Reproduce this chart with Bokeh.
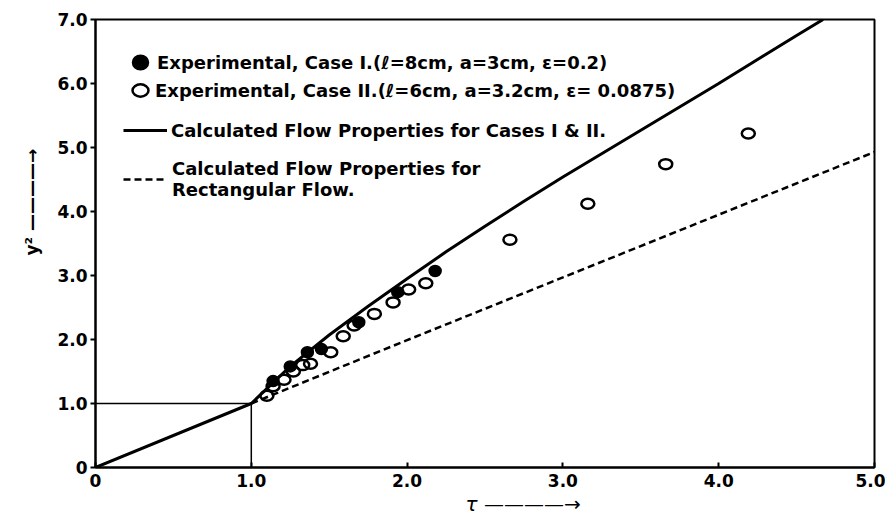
import numpy as np
from bokeh.plotting import figure
from bokeh.models import Legend, LegendItem, Range1d, FixedTicker, Title
from bokeh.embed import file_html
from bokeh.resources import INLINE

# ---- data ----
x_ticks = [0, 1, 2, 3, 4, 5]
x_tick_labels = ["0", "1.0", "2.0", "3.0", "4.0", "5.0"]
y_ticks = [0, 1, 2, 3, 4, 5, 6, 7]
y_tick_labels = ["0", "1.0", "2.0", "3.0", "4.0", "5.0", "6.0", "7.0"]

# calculated flow properties, cases I & II (solid)
calc_x = [0.0, 1.0, 1.25, 1.5, 1.75, 2.0, 2.25, 2.5, 2.75, 3.0, 3.5, 4.0, 4.5, 4.67]
calc_y = [0.0, 1.0, 1.58, 2.07, 2.52, 2.95, 3.37, 3.77, 4.16, 4.54, 5.27, 6.0, 6.75, 7.0]

# calculated flow properties, rectangular flow (dashed)
rect_x = [1.0, 2.0, 3.0, 4.0, 5.0]
rect_y = [1.0, 1.99, 2.97, 3.95, 4.93]

# experimental case I (filled)
case1_x = [1.14, 1.25, 1.36, 1.45, 1.69, 1.94, 2.18]
case1_y = [1.35, 1.58, 1.80, 1.85, 2.27, 2.74, 3.07]

# experimental case II (open)
case2_x = [1.10, 1.14, 1.21, 1.27, 1.33, 1.38, 1.51, 1.59, 1.66, 1.79, 1.91,
           2.01, 2.12, 2.66, 3.16, 3.66, 4.19]
case2_y = [1.12, 1.27, 1.37, 1.50, 1.60, 1.62, 1.80, 2.05, 2.22, 2.40, 2.58,
           2.78, 2.88, 3.56, 4.12, 4.74, 5.22]

# reference box at tau = 1, y^2 = 1
box_h_x = [0.0, 1.0]
box_h_y = [1.0, 1.0]
box_v_x = [1.0, 1.0]
box_v_y = [0.0, 1.0]

legend_labels = [
    "Experimental, Case I.(ℓ=8cm, a=3cm, ε=0.2)",
    "Experimental, Case II.(ℓ=6cm, a=3.2cm, ε= 0.0875)",
    "Calculated Flow Properties for Cases I & II.",
    "Calculated Flow Properties for\nRectangular Flow.",
]

FONT = "DejaVu Sans"

p = figure(width=885, height=518, output_backend="svg", toolbar_location=None,
           x_range=Range1d(0, 5.0), y_range=Range1d(0, 7.0),
           min_border_left=95, min_border_right=11, min_border_top=19,
           min_border_bottom=51)
p.xgrid.visible = False
p.ygrid.visible = False
p.outline_line_color = "black"
p.outline_line_width = 2
p.background_fill_color = "white"
p.border_fill_color = "white"

for ax in (p.xaxis[0], p.yaxis[0]):
    ax.axis_line_width = 2
    ax.axis_line_color = "black"
    ax.major_tick_line_width = 2
    ax.minor_tick_line_color = None
    ax.major_label_text_font = FONT
    ax.major_label_text_font_style = "bold"
    ax.major_label_text_font_size = "17px"
    ax.major_label_text_color = "black"

p.xaxis.ticker = FixedTicker(ticks=x_ticks)
p.xaxis.major_label_overrides = {t: l for t, l in zip(x_ticks, x_tick_labels)}
p.xaxis.major_tick_in = 5
p.xaxis.major_tick_out = 0
p.xaxis.major_label_standoff = 6

p.yaxis.ticker = FixedTicker(ticks=y_ticks)
p.yaxis.major_label_overrides = {t: l for t, l in zip(y_ticks, y_tick_labels)}
p.yaxis.major_tick_in = 0
p.yaxis.major_tick_out = 5
p.yaxis.major_label_standoff = 3

# reference box
p.line(box_h_x, box_h_y, line_color="black", line_width=1.5)
p.line(box_v_x, box_v_y, line_color="black", line_width=1.5)

r_calc = p.line(calc_x, calc_y, line_color="black", line_width=3)
r_rect = p.line(rect_x, rect_y, line_color="black", line_width=2.5,
                line_dash="7 4")

r_c2 = p.ellipse(case2_x, case2_y, width=13, height=10, width_units="screen",
                 height_units="screen", fill_color="white", fill_alpha=0.0,
                 line_color="black", line_width=2.5)
r_c1 = p.ellipse(case1_x, case1_y, width=12, height=11, width_units="screen",
                 height_units="screen", fill_color="black",
                 line_color="black", line_width=1.5)

# one legend block per row, so each row sits where it does in the reference
FRAME_LEFT = 95
FRAME_BOTTOM = 467
ITEM_H = 22


def add_legend(label, renderer, center_y, box_left, glyph_w, standoff, n_lines=1):
    h = ITEM_H + (n_lines - 1) * 20
    lg = Legend(items=[LegendItem(label=label, renderers=[renderer])],
                location=(box_left - FRAME_LEFT, FRAME_BOTTOM - (center_y + h / 2)))
    lg.border_line_color = None
    lg.background_fill_alpha = 0.0
    lg.padding = 0
    lg.margin = 0
    lg.glyph_width = glyph_w
    lg.glyph_height = 20
    lg.label_height = ITEM_H
    lg.label_standoff = standoff
    lg.label_text_font = FONT
    lg.label_text_font_style = "bold"
    lg.label_text_font_size = "18px"
    lg.label_text_color = "black"
    p.add_layout(lg)


add_legend(legend_labels[0], r_c1, 62, 130, 20, 7)
add_legend(legend_labels[1], r_c2, 90, 130, 20, 5)
add_legend(legend_labels[2], r_calc, 130, 123, 44, 4)
add_legend(legend_labels[3], r_rect, 179, 123, 44, 5, n_lines=2)

# axis labels
p.add_layout(Title(text="τ ————→", align="left", offset=370, standoff=0,
                   text_font=FONT, text_font_size="20px", text_color="black",
                   text_font_style="italic"), "below")
p.add_layout(Title(text="y² ————→", align="left", offset=212, standoff=26,
                   text_font=FONT, text_font_size="17px", text_color="black",
                   text_font_style="bold"), "left")

open("out.html", "w").write(file_html(p, INLINE))
